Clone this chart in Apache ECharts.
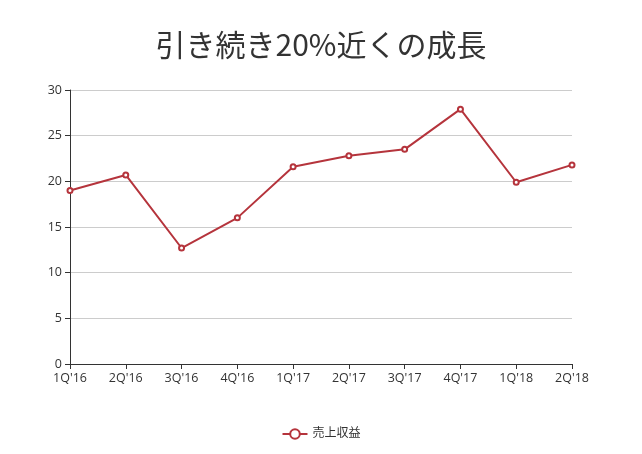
<!DOCTYPE html>
<html><head><meta charset="utf-8">
<script src="https://cdn.jsdelivr.net/npm/echarts@6/dist/echarts.min.js"></script>
<style>html,body{margin:0;padding:0;background:#fff}#c{width:642px;height:454px}</style>
</head><body><div id="c"></div>
<script>
const titleText = '引き続き20%近くの成長';
const categories = ['1Q\'16','2Q\'16','3Q\'16','4Q\'16','1Q\'17','2Q\'17','3Q\'17','4Q\'17','1Q\'18','2Q\'18'];
const seriesName = '売上収益';
const revenue = [19.0, 20.7, 12.7, 16.0, 21.6, 22.8, 23.5, 27.9, 19.9, 21.8];
const yTicks = {min: 0, max: 30, interval: 5};

const font = '"Open Sans", "Noto Sans CJK JP", sans-serif';
const tfont = '"Noto Sans CJK JP", sans-serif';
const chart = echarts.init(document.getElementById('c'));
chart.setOption({
  animation: false,
  textStyle: {fontFamily: font},
  title: {text: titleText, left: 'center', top: 25,
    textStyle: {fontSize: 30, fontWeight: 'normal', color: '#333', fontFamily: tfont}},
  grid: {left: 70, right: 70, top: 90, bottom: 90, containLabel: false},
  legend: {bottom: 9, left: 'center', itemWidth: 25, itemHeight: 12,
    textStyle: {fontSize: 12, color: '#333', fontFamily: font},
    data: [seriesName]},
  xAxis: {type: 'category', data: categories, boundaryGap: false,
    axisLine: {lineStyle: {color: '#333', width: 1}},
    axisTick: {alignWithLabel: true, length: 5, lineStyle: {color: '#333'}},
    axisLabel: {color: '#333', fontSize: 12.5, margin: 8, fontFamily: font}},
  yAxis: {type: 'value', min: yTicks.min, max: yTicks.max, interval: yTicks.interval,
    axisLine: {show: true, lineStyle: {color: '#333', width: 1}},
    axisTick: {show: true, length: 5, lineStyle: {color: '#333'}},
    axisLabel: {color: '#333', fontSize: 12.5, margin: 8, fontFamily: font},
    splitLine: {lineStyle: {color: '#ccc'}}},
  series: [{name: seriesName, type: 'line', data: revenue,
    symbol: 'emptyCircle', symbolSize: 5,
    lineStyle: {color: '#b5343c', width: 2},
    itemStyle: {color: '#b5343c', borderWidth: 1}}]
});
</script></body></html>
